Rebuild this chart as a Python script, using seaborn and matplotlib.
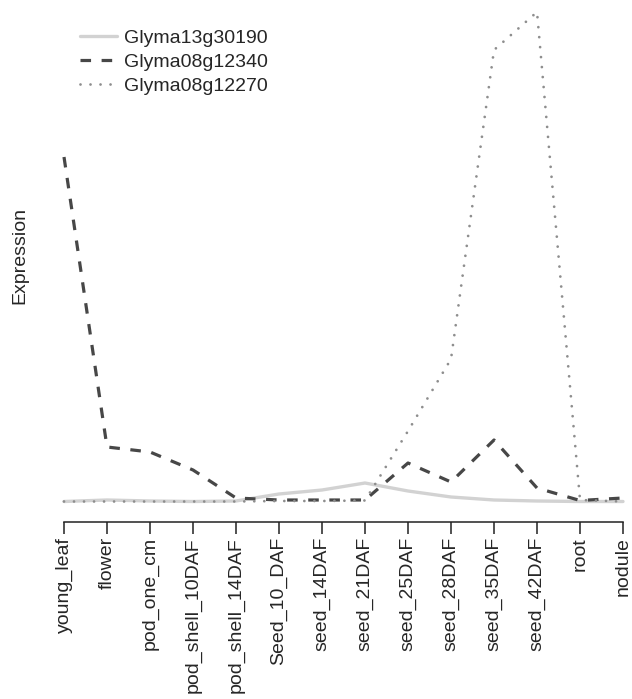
import numpy as np
import pandas as pd
import matplotlib
matplotlib.use("Agg")
import matplotlib.pyplot as plt
import seaborn as sns

tissues = ['young_leaf', 'flower', 'pod_one_cm', 'pod_shell_10DAF', 'pod_shell_14DAF',
           'Seed_10_DAF', 'seed_14DAF', 'seed_21DAF', 'seed_25DAF', 'seed_28DAF',
           'seed_35DAF', 'seed_42DAF', 'root', 'nodule']

glyma13g30190 = [0.5, 2, 1, 0.5, 1, 8, 12, 19, 11, 5, 2, 1, 0.5, 0.5]
glyma08g12340 = [345, 55, 50, 32, 4, 2, 2, 2, 39, 20, 62, 14, 1.5, 4]
glyma08g12270 = [0.5, 0.5, 0.5, 0.5, 0.5, 1, 1, 1.5, 71, 143, 452, 490, 2, 0.5]

genes = ['Glyma13g30190', 'Glyma08g12340', 'Glyma08g12270']
series = [glyma13g30190, glyma08g12340, glyma08g12270]

sns.set_style("white")
plt.rcParams['font.family'] = ['Liberation Sans', 'DejaVu Sans']
plt.rcParams['font.size'] = 14
plt.rcParams['lines.scale_dashes'] = False

# long table for seaborn
pos = np.arange(len(tissues))
df = pd.DataFrame({
    'pos': np.tile(pos, len(genes)),
    'expr': np.concatenate(series),
    'gene': np.repeat(genes, len(tissues)),
})

styles = {
    'Glyma13g30190': dict(color='#d2d2d2', lw=2.4, dashes=None, cap='butt'),
    'Glyma08g12340': dict(color='#474747', lw=2.3, dashes=(7.6, 7.6), cap='butt'),
    'Glyma08g12270': dict(color='#8e8e8e', lw=2.0, dashes=(0.01, 7.2), cap='round'),
}

fig = plt.figure(figsize=(6.32, 6.99), dpi=100)
ax = fig.add_axes([41 / 632, 1 - 521.7 / 699, 591 / 632, 521.7 / 699])

handles = []
for g in genes:
    st = styles[g]
    sns.lineplot(data=df[df['gene'] == g], x='pos', y='expr', ax=ax,
                 color=st['color'], linewidth=st['lw'], clip_on=False)
    line = ax.get_lines()[-1]
    if st['dashes'] is not None:
        line.set_dashes(st['dashes'])
    line.set_dash_capstyle(st['cap'])
    handles.append(line)

ax.set_xlim(-0.535, 13.209)
ax.set_ylim(-19.7, 502)
for s in ['top', 'right', 'left']:
    ax.spines[s].set_visible(False)
ax.spines['bottom'].set_bounds(0, len(tissues) - 1)
ax.spines['bottom'].set_linewidth(1.1)
ax.spines['bottom'].set_color('#222222')
ax.set_yticks([])
ax.set_xticks(pos)
ax.set_xticklabels(tissues, rotation=90, va='top', ha='center')
ax.tick_params(axis='x', length=8.6, width=1.1, pad=2.4, color='#222222',
               direction='out', labelsize=14, bottom=True)
ax.set_xlabel('')
ax.set_ylabel('')
fig.text(20 / 632, 1 - 255 / 699, 'Expression', rotation=90,
         ha='center', va='center', fontsize=14)

ax.legend(handles, genes, loc='upper left', frameon=False,
          bbox_to_anchor=(80 / 632, 1 - 29 / 699), bbox_transform=fig.transFigure,
          borderaxespad=0, borderpad=0, handlelength=1.9, handletextpad=0.36,
          labelspacing=0.33, fontsize=14)

fig.savefig('out.png', dpi=100)
